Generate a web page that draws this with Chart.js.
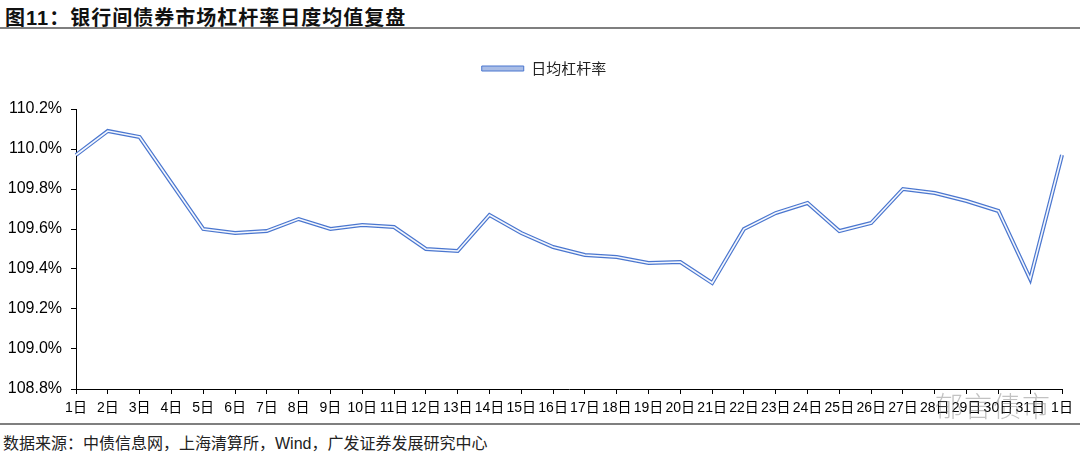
<!DOCTYPE html>
<html>
<head>
<meta charset="utf-8">
<script src="https://cdn.jsdelivr.net/npm/chart.js@4.4.1/dist/chart.umd.min.js"></script>
<style>
    body { margin: 0; width: 1080px; height: 455px; background: #fff; position: relative; overflow: hidden; font-family: "Liberation Sans", Arial, "Noto Sans CJK SC", sans-serif; }
    #title { position: absolute; left: 5px; top: 2px; font-size: 20px; font-weight: bold; letter-spacing: 1px; color: #111; font-family: "Liberation Sans", Arial, "Noto Sans CJK SC", sans-serif; }
    .rule { position: absolute; left: 0; width: 1080px; height: 2px; background: #7f7f7f; }
    #source { position: absolute; left: 3px; top: 430px; font-size: 16px; color: #222; font-family: "Liberation Sans", Arial, "Noto Sans CJK SC", sans-serif; }
    #mark { position: absolute; left: 935px; top: 385px; font-size: 28px; color: rgba(120,120,120,0.45); font-family: "Noto Sans CJK SC", sans-serif; font-weight: 300; letter-spacing: 1px; }
    #chartBox { position: absolute; left: 0; top: 30px; width: 1080px; height: 393px; }
</style>
</head>
<body>
<div id="title">图11：银行间债券市场杠杆率日度均值复盘</div>
<div class="rule" style="top:27px"></div>
<div id="chartBox"><canvas id="chart"></canvas></div>
<div class="rule" style="top:423px"></div>
<div id="source">数据来源：中债信息网，上海清算所，Wind，广发证券发展研究中心</div>
<div id="mark">郁言债市</div>
<script>
const dayLabels = ["1日", "2日", "3日", "4日", "5日", "6日", "7日", "8日", "9日", "10日",
    "11日", "12日", "13日", "14日", "15日", "16日", "17日", "18日", "19日", "20日",
    "21日", "22日", "23日", "24日", "25日", "26日", "27日", "28日", "29日", "30日", "31日", "1日"];

// 日均杠杆率 (%)
const leverage = [109.97, 110.09, 110.06, 109.83, 109.60, 109.58, 109.59, 109.65, 109.60, 109.62,
    109.61, 109.50, 109.49, 109.67, 109.58, 109.51, 109.47, 109.46, 109.43, 109.435,
    109.33, 109.60, 109.68, 109.73, 109.59, 109.63, 109.80, 109.78, 109.74, 109.69, 109.35, 109.97];

const yMin = 108.8;
const yMax = 110.2;
const yStep = 0.2;

// legend sits a bit right of centre and well above the plot in the original
const legendShift = {
    id: "legendShift",
    afterLayout(chart) {
        if (chart.legend) {
            chart.legend.left += 13;
            chart.legend.right += 13;
            chart.legend.top -= 23;
            chart.legend.bottom -= 23;
        }
    }
};

const ctx = document.getElementById("chart").getContext("2d");
new Chart(ctx, {
    type: "line",
    data: {
        labels: dayLabels,
        datasets: [{
            // light centre of the double line (drawn on top)
            label: "inner",
            data: leverage,
            borderColor: "#f4f7fd",
            borderWidth: 1.6,
            pointRadius: 0,
            tension: 0,
            fill: false
        }, {
            label: "日均杠杆率",
            data: leverage,
            borderColor: "#4a76cf",
            backgroundColor: "#a9bde6",
            borderWidth: 4,
            pointRadius: 0,
            tension: 0,
            fill: false
        }]
    },
    options: {
        responsive: true,
        maintainAspectRatio: false,
        animation: false,
        layout: { padding: { left: 0, right: 18, top: 48, bottom: 0 } },
        plugins: {
            tooltip: { enabled: false },
            legend: {
                position: "top",
                labels: {
                    generateLabels: chart => Chart.defaults.plugins.legend.labels.generateLabels(chart)
                        .filter(item => item.text !== "inner")
                        .map(item => ({ ...item, lineWidth: 1 })),
                    boxWidth: 42,
                    boxHeight: 5,
                    color: "#222",
                    padding: 6,
                    font: { size: 15, family: "'Noto Sans CJK SC', sans-serif" }
                }
            }
        },
        scales: {
            x: {
                offset: false,
                grid: { display: true, drawOnChartArea: false, drawTicks: true, tickLength: 5, tickColor: "#000", offset: false },
                border: { color: "#000", width: 1 },
                ticks: {
                    color: "#000",
                    autoSkip: false,
                    maxRotation: 0,
                    padding: 6,
                    font: { size: 14, family: "'Liberation Sans', 'Noto Sans CJK SC', sans-serif" }
                },
                afterFit: scale => { scale.height = 34; }
            },
            y: {
                min: yMin,
                max: yMax,
                grid: { display: true, drawOnChartArea: false, drawTicks: true, tickLength: 5, tickColor: "#000" },
                border: { color: "#000", width: 1 },
                ticks: {
                    stepSize: yStep,
                    color: "#000",
                    padding: 9,
                    font: { size: 16, family: "'Liberation Sans', Arial, sans-serif" },
                    callback: v => v.toFixed(1) + "%"
                },
                afterFit: scale => { scale.width = 76; }
            }
        }
    },
    plugins: [legendShift]
});
</script>
</body>
</html>
